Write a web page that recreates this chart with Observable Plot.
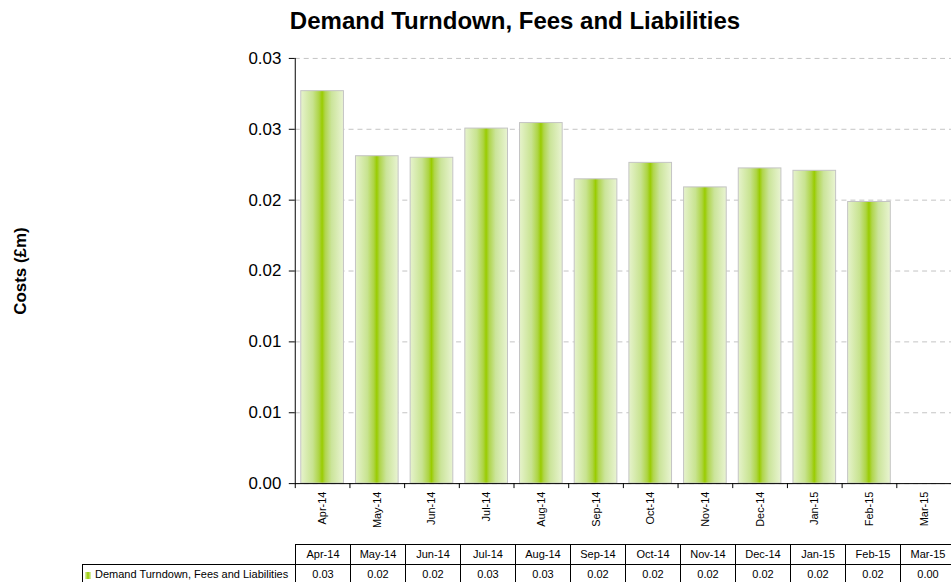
<!DOCTYPE html>
<html><head><meta charset="utf-8">
<script src="https://cdn.jsdelivr.net/npm/d3@7"></script>
<script src="https://cdn.jsdelivr.net/npm/@observablehq/plot@0.6"></script>
<style>
body{margin:0;overflow:hidden;background:#fff;font-family:"Liberation Sans",Arial,sans-serif;}
#wrap{position:relative;width:951px;height:582px;overflow:hidden;}
#title{position:absolute;left:0;top:1px;width:1030px;height:40px;text-align:center;font-weight:bold;font-size:24px;line-height:40px;color:#000;}
#chart{position:absolute;left:0;top:40px;}
.cell{position:absolute;box-sizing:border-box;border:1px solid #000;font-size:11px;line-height:19px;text-align:center;color:#000;background:#fff;white-space:nowrap;}
.sw{display:inline-block;width:6px;height:7px;margin-right:4px;vertical-align:-1px;background:linear-gradient(to right,#dcefb4,#99cc00 50%,#dcefb4);}
</style></head>
<body><div id="wrap"><div id="title"></div><div id="chart"></div><div id="table"></div></div>
<script>
const chartTitle = "Demand Turndown, Fees and Liabilities";
const seriesName = "Demand Turndown, Fees and Liabilities";
const yLabel = "Costs (£m)";
const months = ["Apr-14","May-14","Jun-14","Jul-14","Aug-14","Sep-14","Oct-14","Nov-14","Dec-14","Jan-15","Feb-15","Mar-15"];
const costs = [0.02769,0.02310,0.02299,0.02505,0.02544,0.02147,0.02263,0.02090,0.02224,0.02207,0.01987,0];
const yTicks = [0,0.005,0.01,0.015,0.02,0.025,0.03];
const yTickLabels = ["0.00","0.01","0.01","0.02","0.02","0.03","0.03"];

const data = months.map((m, i) => ({month: m, cost: costs[i]}));
document.getElementById("title").textContent = chartTitle;

const left = 296, right = 955;
const step = (right - left) / months.length;

const defs = () => {
  const svg = d3.create("svg:defs");
  const g = svg.append("linearGradient").attr("id", "barGrad").attr("x1", "0").attr("x2", "1").attr("y1", "0").attr("y2", "0");
  [[0,"#e6f3cc"],[0.28,"#c8e390"],[0.43,"#add443"],[0.5,"#99cc00"],[0.57,"#b0d54c"],[0.72,"#cbe49a"],[1,"#e9f4d2"]]
    .forEach(([o,c]) => g.append("stop").attr("offset", o).attr("stop-color", c));
  return svg.node();
};

const chart = Plot.plot({
  width: 955,
  height: 504,
  marginTop: 18,
  marginBottom: 59,
  marginLeft: left,
  marginRight: 0,
  style: {fontFamily: "'Liberation Sans', Arial, sans-serif", color: "#000", background: "transparent"},
  x: {domain: months, range: [left, right], paddingInner: 0.22, paddingOuter: 0.11, round: false},
  y: {domain: [0, 0.03]},
  marks: [
    defs,
    Plot.gridY(yTicks, {stroke: "#c4c4c4", strokeOpacity: 1, strokeDasharray: "5,4"}),
    Plot.barY(data, {x: "month", y: "cost", fill: "url(#barGrad)", stroke: "#c4c4c4", strokeWidth: 1}),
    Plot.axisY(yTicks, {tickSize: 6, tickPadding: 8, fontSize: 17, label: null,
      tickFormat: d => yTickLabels[yTicks.indexOf(d)]}),
    Plot.axisX({tickSize: 0, tickPadding: 8, tickRotate: -90, fontSize: 11, label: null}),
    Plot.axisX({tickSize: 5, tickFormat: () => "", dx: -step / 2, label: null}),
    Plot.frame({anchor: "left", stroke: "#000"}),
    Plot.frame({anchor: "bottom", stroke: "#000"}),
    Plot.text([yLabel], {frameAnchor: "left", dx: -276, rotate: -90, textAnchor: "middle", fontSize: 17, fontWeight: "bold", fill: "#000"})
  ]
});
document.getElementById("chart").appendChild(chart);

const table = d3.select("#table");
const fmt = d3.format(".2f");
months.forEach((m, i) => {
  table.append("div").attr("class", "cell")
    .style("left", (295 + 55 * i) + "px").style("top", "544px")
    .style("width", "56px").style("height", "21px").text(m);
  table.append("div").attr("class", "cell")
    .style("left", (295 + 55 * i) + "px").style("top", "564px")
    .style("width", "56px").style("height", "21px").text(fmt(costs[i]));
});
const lab = table.append("div").attr("class", "cell")
  .style("left", "82px").style("top", "564px").style("width", "214px").style("height", "21px")
  .style("text-align", "left").style("padding-left", "2px");
lab.append("span").attr("class", "sw");
lab.append("span").text(seriesName);
</script></body></html>
